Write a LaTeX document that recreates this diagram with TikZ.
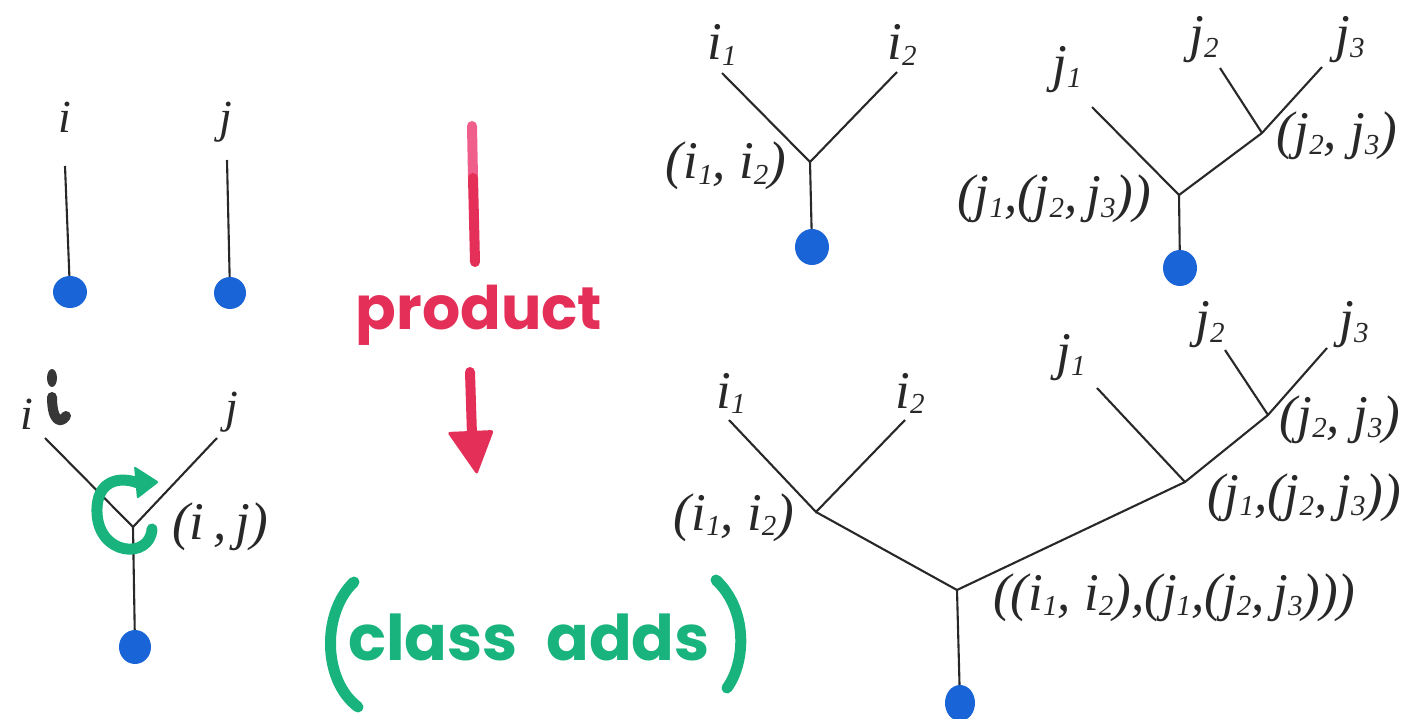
\documentclass[tikz,border=0pt]{standalone}
\usepackage{fontspec}
\setmainfont{Liberation Serif}
\newfontfamily\handfont{Poppins}
\definecolor{inkblue}{RGB}{25,100,215}
\definecolor{inkred}{RGB}{228,48,88}
\definecolor{inkpink}{RGB}{240,95,140}
\definecolor{inkgreen}{RGB}{25,180,125}
\definecolor{linegray}{RGB}{40,40,40}
\definecolor{markgray}{RGB}{55,55,55}
\newcommand\sbx[1]{\raisebox{-0.1em}{\fontsize{29}{29}\selectfont #1}}
\begin{document}
\begin{tikzpicture}[x=1pt,y=-1pt,
  edge/.style={draw=linegray,line width=2.1pt},
  lab/.style={inner sep=0pt,anchor=base,font=\fontsize{53}{60}\selectfont\itshape,text=linegray},
  leaflab/.style={lab,font=\fontsize{46}{52}\selectfont\itshape},
  dot/.style={fill=inkblue,draw=none},
  marker/.style={line width=11pt,line cap=round,line join=round},
  hand/.style={inner sep=0pt,anchor=base,font=\handfont\bfseries\fontsize{60}{60}\selectfont}
]
\useasboundingbox (0,0) rectangle (1411,719);
\fill[white] (0,0) rectangle (1411,719);

% ---------- top left: two single leaves ----------
\coordinate (ti) at (65,166);
\coordinate (tid) at (70,292);
\coordinate (tj) at (227,160);
\coordinate (tjd) at (230,293);
\node[leaflab] (lti) at (65,133) {i};
\node[leaflab] (ltj) at (226,133) {j};
\draw[edge] (ti) -- (tid);
\draw[edge] (tj) -- (tjd);
\fill[dot] (tid) ellipse [x radius=17,y radius=16];
\fill[dot] (tjd) ellipse [x radius=16,y radius=16];

% ---------- bottom left: product tree ----------
\coordinate (bl) at (45,438);
\coordinate (br) at (217,438);
\coordinate (bJ) at (133,527);
\coordinate (bd) at (135,647);
\draw[edge] (bl) -- (bJ) -- (br);
\draw[edge] (bJ) -- (bd);
\fill[dot] (bd) ellipse [x radius=16,y radius=17];
\node[leaflab] (lbi) at (27,429) {i};
\node[leaflab] (lbj) at (232,422) {j};
\node[lab] (lbij) at (220,539) {(i\,,\,j)};
% handwritten black i
\fill[markgray] (52,378) ellipse [x radius=5,y radius=9];
\draw[marker,markgray,line width=10pt] (52,397) .. controls (52,420) and (60,425) .. (66,416);
% green circular arrow
\coordinate (ga) at (152,529);
\coordinate (gb) at (138,483);
\draw[marker,inkgreen] (ga) .. controls (150,560) and (98,556) .. (97,512) .. controls (96,480) and (120,476) .. (gb);
\fill[inkgreen,rounded corners=2pt] (134,466) -- (159,482) -- (137,499) -- cycle;

% ---------- product arrow ----------
\coordinate (pa) at (472,126);
\coordinate (pm) at (473,178);
\coordinate (pb) at (475,262);
\draw[marker,inkpink,line width=10pt] (pa) -- (pm);
\draw[marker,inkred,line width=10pt] (pm) -- (pb);
\node[hand,text=inkred] (prod) at (479,330) {product};
\coordinate (qa) at (470,372);
\coordinate (qb) at (472,435);
\draw[marker,inkred,line width=10pt] (qa) -- (qb);
\fill[inkred,rounded corners=3pt] (447,432) -- (494,430) -- (477,475) -- cycle;

% ---------- (class adds) ----------
\draw[marker,inkgreen] (354,582) .. controls (322,612) and (322,680) .. (358,707);
\draw[marker,inkgreen] (716,580) .. controls (748,610) and (746,662) .. (727,688);
\node[hand,text=inkgreen,font=\handfont\bfseries\fontsize{63}{63}\selectfont] (cls) at (529,660) {class\hspace{0.45em}adds};

% ---------- top middle tree (i1,i2) ----------
\coordinate (mi1) at (722,73);
\coordinate (mi2) at (897,72);
\coordinate (mJ) at (810,162);
\coordinate (md) at (812,247);
\draw[edge] (mi1) -- (mJ) -- (mi2);
\draw[edge] (mJ) -- (md);
\fill[dot] (md) ellipse [x radius=17,y radius=18];
\node[lab] (lmi1) at (722,60) {i\sbx{1}};
\node[lab] (lmi2) at (902,60) {i\sbx{2}};
\node[lab] (lmJ) at (726,179) {(i\sbx{1}, i\sbx{2})};

% ---------- top right tree (j1,(j2,j3)) ----------
\coordinate (rj1) at (1092,107);
\coordinate (rA) at (1179,195);
\coordinate (rd) at (1180,268);
\coordinate (rB) at (1262,133);
\coordinate (rj2) at (1220,68);
\coordinate (rj3) at (1322,67);
\draw[edge] (rj1) -- (rA) -- (rB) -- (rj3);
\draw[edge] (rj2) -- (rB);
\draw[edge] (rA) -- (rd);
\fill[dot] (rd) ellipse [x radius=17,y radius=18];
\node[lab] (lrj1) at (1067,82) {j\sbx{1}};
\node[lab] (lrj2) at (1204,52) {j\sbx{2}};
\node[lab] (lrj3) at (1350,52) {j\sbx{3}};
\node[lab] (lrB) at (1337,149) {(j\sbx{2}, j\sbx{3})};
\node[lab] (lrA) at (1054,212) {(j\sbx{1},(j\sbx{2},\,j\sbx{3}))};

% ---------- bottom big tree ----------
\coordinate (gi1) at (729,420);
\coordinate (gC) at (816,512);
\coordinate (gi2) at (905,420);
\coordinate (gR) at (957,590);
\coordinate (gd) at (960,703);
\coordinate (gj1) at (1097,388);
\coordinate (gD) at (1185,482);
\coordinate (gE) at (1268,415);
\coordinate (gj2) at (1225,350);
\coordinate (gj3) at (1327,348);
\draw[edge] (gi1) -- (gC) -- (gi2);
\draw[edge] (gC) -- (gR) -- (gD) -- (gE) -- (gj3);
\draw[edge] (gj1) -- (gD);
\draw[edge] (gj2) -- (gE);
\draw[edge] (gR) -- (gd);
\fill[dot] (gd) ellipse [x radius=15,y radius=18];
\node[lab] (lgi1) at (731,408) {i\sbx{1}};
\node[lab] (lgi2) at (910,408) {i\sbx{2}};
\node[lab] (lgj1) at (1071,370) {j\sbx{1}};
\node[lab] (lgj2) at (1210,337) {j\sbx{2}};
\node[lab] (lgj3) at (1354,337) {j\sbx{3}};
\node[lab] (lgC) at (734,530) {(i\sbx{1}, i\sbx{2})};
\node[lab] (lgE) at (1340,432) {(j\sbx{2}, j\sbx{3})};
\node[lab,anchor=base west] (lgD) at (1207,510) {(j\sbx{1},(j\sbx{2},\,j\sbx{3}))};
\node[lab,anchor=base west] (lgR) at (993,610) {((i\sbx{1}, i\sbx{2}),(j\sbx{1},(j\sbx{2},\,j\sbx{3})))};
\end{tikzpicture}
\end{document}
